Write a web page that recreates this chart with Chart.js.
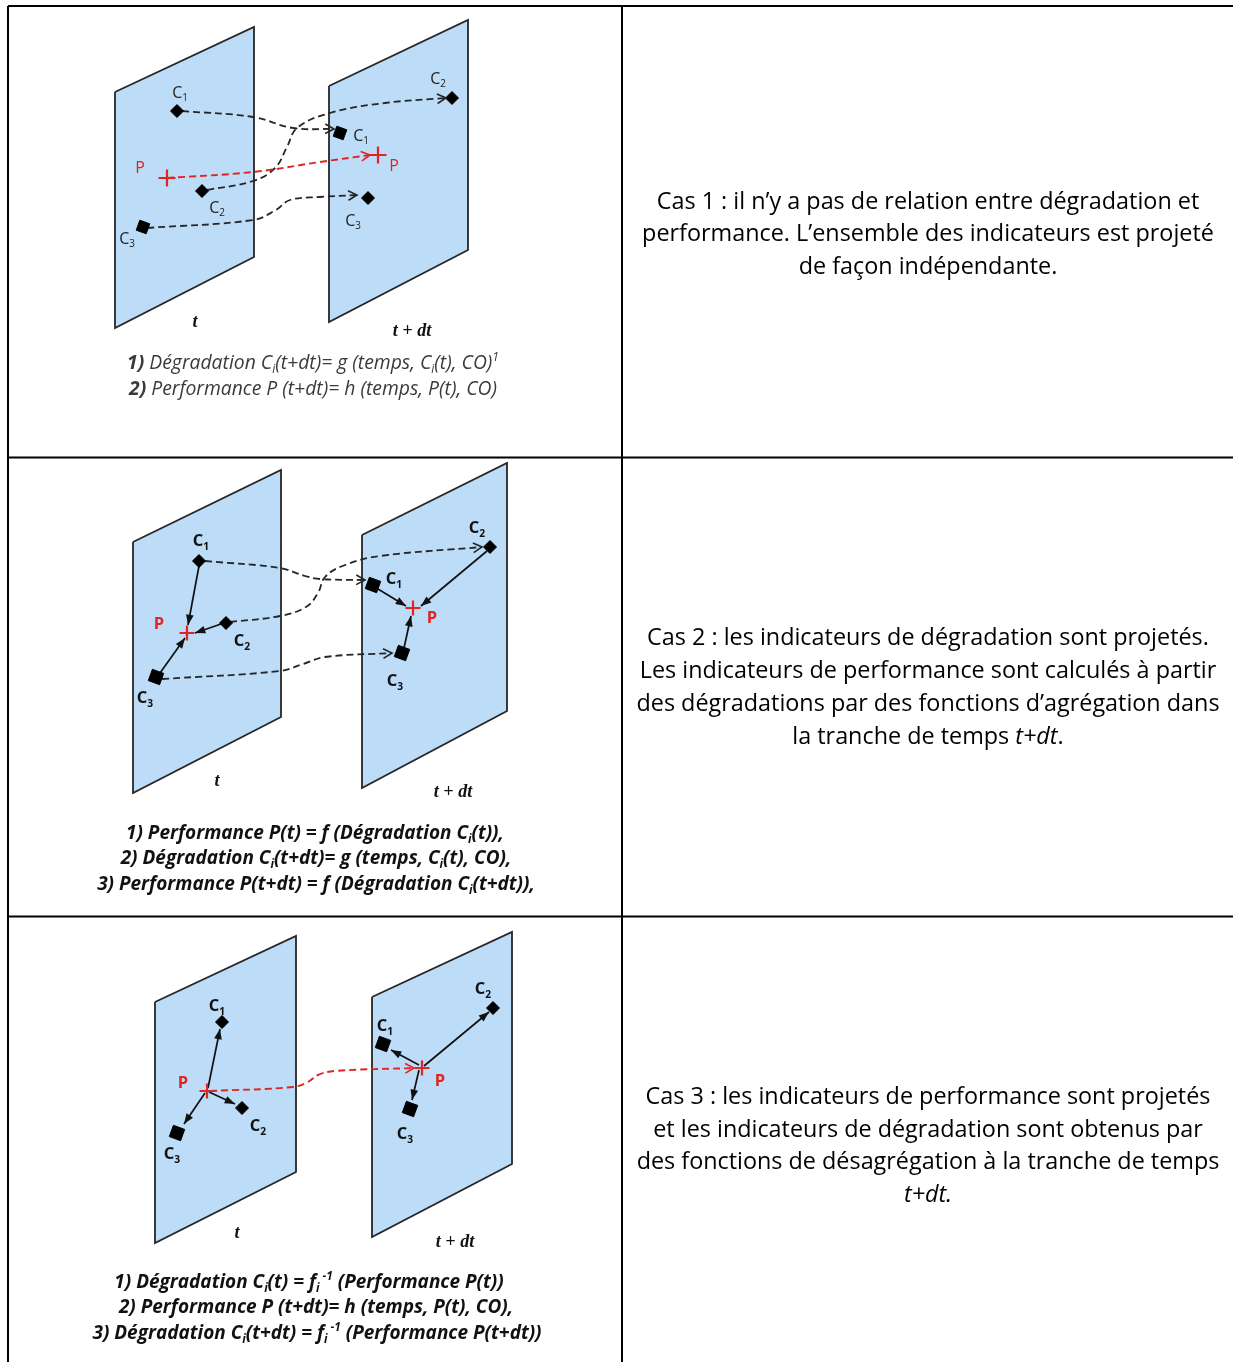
<!DOCTYPE html>
<html><head><meta charset="utf-8">
<script src="https://cdn.jsdelivr.net/npm/chart.js@4/dist/chart.umd.min.js"></script>
<style>html,body{margin:0;padding:0;background:#fff;}canvas{display:block;}</style>
</head><body>
<canvas id="c" width="1233" height="1362"></canvas>
<script>
// ---------------- DATA (diagram coordinates) ----------------
const tableLines = [
  [[8,6],[1233,6]], [[8,6],[8,1362]], [[622,6],[622,1362]],
  [[8,457.5],[1233,457.5]], [[8,916.5],[1233,916.5]]
];
const panels = [
  [[115,92],[254,27],[254,257],[115,328]],
  [[329,86],[468,20],[468,250],[329,322]],
  [[133,542],[281,470],[281,717],[133,793]],
  [[362,535],[507,463],[507,711],[362,788]],
  [[155,1002],[296,936],[296,1172],[155,1243]],
  [[372,997],[512,932],[512,1164],[372,1237]]
];
const dashedCurves = [
  [[182,111],[253,117],[293,128],[334,129]],
  [[207,190],[253,181],[275,168],[287,147],[297,128],[330,113],[385,103],[446,98]],
  [[147,228],[253,220],[276,210],[290,200],[320,197],[357,195]],
  [[205,561],[280,568],[305,576],[320,579],[365,580]],
  [[230,622],[280,616],[306,607],[318,593],[325,577],[345,565],[380,556],[482,547]],
  [[162,679],[280,671],[303,664],[325,657],[392,653]]
];
const redCurves = [
  [[167,178],[253,172],[320,162],[370,155]],
  [[210,1091],[293,1087],[308,1082],[318,1075],[335,1071],[414,1068]]
];
const solidArrows = [
  [[199,566],[188,625]], [[221,624],[195,633]], [[160,673],[185,638]],
  [[378,589],[406,606]], [[487,551],[421,606]], [[404,648],[411,616]],
  [[208,1088],[220,1029]], [[209,1092],[235,1104]], [[205,1093],[184,1124]],
  [[419,1065],[391,1050]], [[424,1066],[489,1012]], [[419,1070],[412,1100]]
];
const diamondsSmall = [[177,111],[202,191],[452,98],[368,198]];
const squaresSmall = [[143,227],[340,133]];
const crossesSmall = [[167,178],[378,155]];
const diamondsBig = [[199,561],[226,623],[490,547],[222,1022],[242,1108],[493,1008]];
const squaresBig = [[156,677],[373,585],[402,653],[177,1133],[383,1044],[410,1109]];
const crossesBig = [[187,633],[413,608],[207,1091],[422,1068]];

const labelsRegular = [
  [180,92,'C_{1}'],[217,207,'C_{2}'],[127,238,'C_{3}'],
  [438,78,'C_{2}'],[361,135,'C_{1}'],[353,220,'C_{3}']
];
const labelsRegularRed = [[140,167,'P'],[394,165,'P']];
const labelsBold = [
  [201,540,'C_{1}'],[242,640,'C_{2}'],[145,697,'C_{3}'],
  [477,527,'C_{2}'],[394,578,'C_{1}'],[395,680,'C_{3}'],
  [217,1005,'C_{1}'],[258,1125,'C_{2}'],[172,1153,'C_{3}'],
  [483,988,'C_{2}'],[385,1025,'C_{1}'],[405,1133,'C_{3}']
];
const labelsBoldRed = [[159,623,'P'],[432,617,'P'],[183,1082,'P'],[440,1080,'P']];
const timeLabels = [
  [195,321,'t'],[412,330,'t + dt'],
  [217,780,'t'],[453,791,'t + dt'],
  [237,1232,'t'],[455,1241,'t + dt']
];
const formulas1 = [
  [313,362,'**1)** Dégradation C_{i}(t+dt)= g (temps, C_{i}(t), CO)^{1}'],
  [313,388,'**2)** Performance P (t+dt)= h (temps, P(t), CO)']
];
const formulas23 = [
  [315,832,'1) Performance P(t) = f (Dégradation C_{i}(t)),'],
  [316,857,'2) Dégradation C_{i}(t+dt)= g (temps, C_{i}(t), CO),'],
  [316,883,'3) Performance P(t+dt) = f (Dégradation C_{i}(t+dt)),'],
  [309,1281,'1) Dégradation C_{i}(t) = f_{i}^{ -1} (Performance P(t))'],
  [316,1306,'2) Performance P (t+dt)= h (temps, P(t), CO),'],
  [317,1332,'3) Dégradation C_{i}(t+dt) = f_{i}^{ -1} (Performance P(t+dt))']
];
const caseTexts = [
  [928,201,'Cas 1 : il n’y a pas de relation entre dégradation et'],
  [928,233,'performance. L’ensemble des indicateurs est projeté'],
  [928,266,'de façon indépendante.'],
  [928,637,'Cas 2 : les indicateurs de dégradation sont projetés.'],
  [928,670,'Les indicateurs de performance sont calculés à partir'],
  [928,703,'des dégradations par des fonctions d’agrégation dans'],
  [928,736,'la tranche de temps ~t+dt~.'],
  [928,1096,'Cas 3 : les indicateurs de performance sont projetés'],
  [928,1129,'et les indicateurs de dégradation sont obtenus par'],
  [928,1161,'des fonctions de désagrégation à la tranche de temps'],
  [928,1194,'~t+dt.~']
];

// ---------------- helpers ----------------
const P = a => a.map(([x,y]) => ({x,y}));
const FAM = '"Open Sans", Lato, sans-serif';
const RED = '#e0241f';

const datasets = [];
tableLines.forEach(s => datasets.push({data:P(s), showLine:true, borderColor:'#000', borderWidth:2, pointRadius:0, order:20}));
panels.forEach(c => datasets.push({data:P([...c, c[0]]), showLine:true, borderColor:'#262626', borderWidth:1.8,
  backgroundColor:'#bddcf8', fill:'shape', pointRadius:0, tension:0, order:15}));
dashedCurves.forEach(c => datasets.push({data:P(c), showLine:true, borderColor:'#262626', borderWidth:1.8,
  borderDash:[7,4], tension:0.4, pointRadius:0, order:8, arrowHead:'open', arrowColor:'#262626'}));
redCurves.forEach(c => datasets.push({data:P(c), showLine:true, borderColor:RED, borderWidth:1.9,
  borderDash:[7,4], tension:0.4, pointRadius:0, order:7, arrowHead:'open', arrowColor:RED}));
solidArrows.forEach(c => datasets.push({data:P(c), showLine:true, borderColor:'#111', borderWidth:1.7,
  pointRadius:0, order:6, arrowHead:'solid', arrowColor:'#111'}));
const mk = (d, style, r, color, extra) => datasets.push(Object.assign({data:P(d), showLine:false, pointStyle:style,
  pointRadius:r, pointHoverRadius:r, backgroundColor:color, borderColor:color, borderWidth:1, order:2}, extra||{}));
mk(diamondsSmall,'rectRot',6.5,'#000');
mk(squaresSmall,'rect',7.5,'#000',{rotation:20});
mk(crossesSmall,'cross',8.5,RED,{borderWidth:2.2,order:1});
mk(diamondsBig,'rectRot',6.5,'#000');
mk(squaresBig,'rect',8.5,'#000',{rotation:20});
mk(crossesBig,'cross',7.5,RED,{borderWidth:2.2,order:1});

function parseRich(s, b0, i0){
  const segs=[]; let b=b0, it=i0, buf='', k=0;
  const push=()=>{ if(buf){ segs.push({t:buf,b,it,mode:'n'}); buf=''; } };
  while(k<s.length){
    if(s.startsWith('**',k)){ push(); b=!b; k+=2; continue; }
    if(s[k]==='~'){ push(); it=!it; k++; continue; }
    if((s[k]==='_'||s[k]==='^') && s[k+1]==='{'){
      push(); const j=s.indexOf('}',k);
      segs.push({t:s.slice(k+2,j),b,it,mode:s[k]==='_'?'sub':'sup'}); k=j+1; continue;
    }
    buf+=s[k]; k++;
  }
  push(); return segs;
}
function richFont(sg,o){ const sz = sg.mode==='n'?o.size:o.size*0.62;
  return (sg.it?'italic ':'')+(sg.b?'bold ':'')+sz+'px '+(o.family||FAM); }
function richWidth(ctx,s,o){
  let w=0; parseRich(s,!!o.bold,!!o.italic).forEach(sg=>{ctx.font=richFont(sg,o); w+=ctx.measureText(sg.t).width;}); return w;
}
function fitSize(ctx,s,o,target){ const t=Object.assign({},o,{size:20}); return 20*target/richWidth(ctx,s,t); }
function drawRich(ctx, s, x, y, o){
  const segs=parseRich(s, !!o.bold, !!o.italic);
  let w=0; const ws=segs.map(sg=>{ ctx.font=richFont(sg,o); const m=ctx.measureText(sg.t).width; w+=m; return m; });
  let cx = x - w/2;
  const base = y + o.size*0.36;
  ctx.fillStyle=o.color; ctx.textBaseline='alphabetic'; ctx.textAlign='left';
  segs.forEach((sg,n)=>{
    ctx.font=richFont(sg,o);
    const dy = sg.mode==='sub'? o.size*0.22 : sg.mode==='sup'? -o.size*0.4 : 0;
    ctx.fillText(sg.t, cx, base+dy); cx+=ws[n];
  });
}

const arrowPlugin = {
  id:'arrows',
  afterDatasetsDraw(chart){
    const ctx=chart.ctx;
    chart.data.datasets.forEach((ds,i)=>{
      if(!ds.arrowHead) return;
      const pts=chart.getDatasetMeta(i).data, n=pts.length, p=pts[n-1];
      let q=pts[n-2];
      if(p.cp1x!==undefined && Math.hypot(p.cp1x-p.x,p.cp1y-p.y)>1) q={x:p.cp1x,y:p.cp1y};
      const a=Math.atan2(p.y-q.y,p.x-q.x);
      ctx.save(); ctx.strokeStyle=ds.arrowColor; ctx.fillStyle=ds.arrowColor; ctx.setLineDash([]);
      if(ds.arrowHead==='open'){
        const L=10, s=0.5;
        ctx.lineWidth=1.6; ctx.beginPath();
        ctx.moveTo(p.x-L*Math.cos(a-s), p.y-L*Math.sin(a-s)); ctx.lineTo(p.x,p.y);
        ctx.lineTo(p.x-L*Math.cos(a+s), p.y-L*Math.sin(a+s)); ctx.stroke();
      } else {
        const L=11, s=0.36;
        ctx.beginPath(); ctx.moveTo(p.x,p.y);
        ctx.lineTo(p.x-L*Math.cos(a-s), p.y-L*Math.sin(a-s));
        ctx.lineTo(p.x-L*Math.cos(a+s), p.y-L*Math.sin(a+s)); ctx.closePath(); ctx.fill();
      }
      ctx.restore();
    });
  }
};
const textPlugin = {
  id:'texts',
  afterDraw(chart){
    const ctx=chart.ctx, X=v=>chart.scales.x.getPixelForValue(v), Y=v=>chart.scales.y.getPixelForValue(v);
    ctx.save();
    const oCase={color:'#000'}; oCase.size=fitSize(ctx,caseTexts[0][2],oCase,543);
    const oF1={italic:true,color:'#3a3a3a'}; oF1.size=fitSize(ctx,formulas1[0][2],oF1,372);
    const oF23={italic:true,bold:true,color:'#111'}; oF23.size=fitSize(ctx,formulas23[2][2],oF23,438);
    labelsRegular.forEach(([x,y,t])=>drawRich(ctx,t,X(x),Y(y),{size:16,color:'#222'}));
    labelsRegularRed.forEach(([x,y,t])=>drawRich(ctx,t,X(x),Y(y),{size:16,color:RED}));
    labelsBold.forEach(([x,y,t])=>drawRich(ctx,t,X(x),Y(y),{size:16.5,bold:true,color:'#111'}));
    labelsBoldRed.forEach(([x,y,t])=>drawRich(ctx,t,X(x),Y(y),{size:16.5,bold:true,color:RED}));
    timeLabels.forEach(([x,y,t])=>drawRich(ctx,t,X(x),Y(y),{size:18,bold:true,italic:true,color:'#111',family:'"Liberation Serif", serif'}));
    formulas1.forEach(([x,y,t])=>drawRich(ctx,t,X(x),Y(y),oF1));
    formulas23.forEach(([x,y,t])=>drawRich(ctx,t,X(x),Y(y),oF23));
    caseTexts.forEach(([x,y,t])=>drawRich(ctx,t,X(x),Y(y),oCase));
    ctx.restore();
  }
};

new Chart(document.getElementById('c'), {
  type:'scatter',
  data:{datasets},
  options:{
    responsive:false, animation:false, devicePixelRatio:1, events:[],
    layout:{padding:0, autoPadding:false},
    scales:{
      x:{type:'linear', min:0, max:1233, display:false},
      y:{type:'linear', min:0, max:1362, reverse:true, display:false}
    },
    plugins:{legend:{display:false}, tooltip:{enabled:false}}
  },
  plugins:[arrowPlugin, textPlugin]
});
</script>
</body></html>
